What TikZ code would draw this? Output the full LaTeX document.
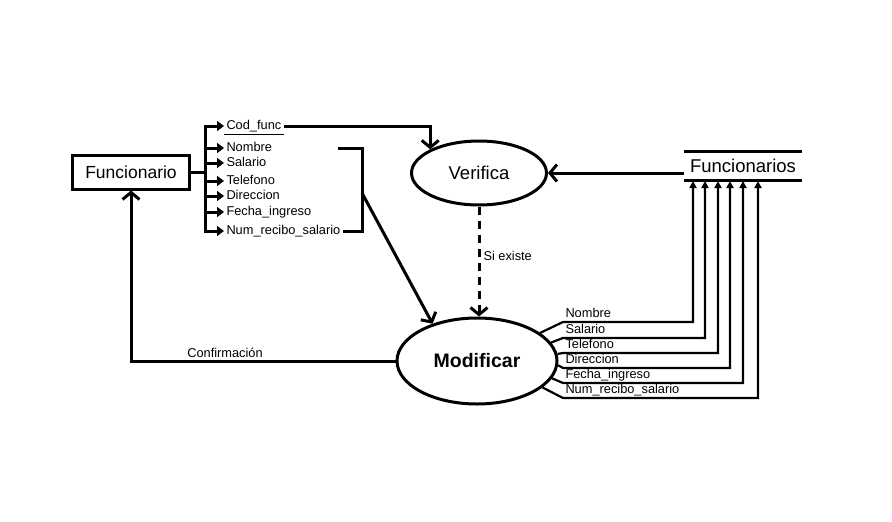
\documentclass[tikz,border=0pt]{standalone}
\usepackage{fontspec}
\setmainfont{Liberation Sans}
\usetikzlibrary{arrows.meta, shapes.geometric, positioning, calc}

\begin{document}
\begin{tikzpicture}[
        x=1pt, y=-1pt,
        line width=3pt,
        ent/.style={rectangle, draw, minimum width=117, minimum height=34, inner sep=0pt, font=\fontsize{17.5}{20}\selectfont},
        proc/.style={ellipse, draw, inner sep=0pt},
        attr/.style={inner sep=1pt, text height=9pt, text depth=2.5pt, font=\fontsize{12.8}{14}\selectfont},
        almacen/.style={minimum width=115, minimum height=26, inner sep=0pt, font=\fontsize{18.5}{21}\selectfont},
        flow/.style={-{Straight Barb[length=7pt, width=17pt]}},
        branch/.style={-{Triangle[length=7pt, width=10pt]}},
        back/.style={line width=2.2pt, -{Triangle[length=7pt, width=7pt]}}
    ]
        \useasboundingbox (0,0) rectangle (892,522);

        % ================= NODOS =================

        % Entidad externa
        \node[ent] (func) at (131,172) {Funcionario};

        % Procesos
        \node[proc, minimum width=135, minimum height=64, font=\fontsize{18.5}{21}\selectfont] (ver) at (479,173) {Verifica};
        \node[proc, minimum width=160, minimum height=86, font=\bfseries\fontsize{19.5}{22}\selectfont] (mod) at (477,361) {Modificar};

        % Almacen de datos
        \node[almacen] (alm) at (743,166) {Funcionarios};
        \draw[line width=2.6pt] (alm.north west) -- (alm.north east);
        \draw[line width=2.6pt] (alm.south west) -- (alm.south east);

        % ================= ATRIBUTOS DE ENTRADA =================
        \foreach \n/\t/\y in {cod/Cod\_func/126, nom/Nombre/148, sal/Salario/163,
                tel/Telefono/181, dir/Direccion/196, fec/Fecha\_ingreso/212,
                num/Num\_recibo\_salario/231}{
            \node[attr, anchor=west] (\n) at (224,\y) {\t};
            \coordinate (t\n) at (205,\y);
            \draw[branch] (t\n) -- (\n.west);
        }
        \draw[line cap=rect] (tcod) -- (tnum);
        \draw (func.east) -- (func.east -| tcod);
        \draw[line width=1pt] (cod.south west) -- (cod.south east);

        % Cod_func hacia Verifica
        \draw[flow] (cod.east) -| (ver.north west);

        % Corchete de los demas atributos
        \coordinate (bs) at (338,148);
        \coordinate (bt) at (362,148);
        \coordinate (bb) at (362,231);
        \coordinate (bm) at (362,193);
        \draw[line join=miter] (bs) -- (bt) -- (bb) -- (num.east);
        \draw[flow] (bm) -- (mod.140);

        % ================= FLUJOS =================
        \draw[flow, dash pattern=on 8pt off 6pt] (ver.south) -- (ver.south |- mod.north);
        \node[attr, anchor=west] (si) at (481,257) {Si existe};

        \draw[flow] (ver.east -| alm.west) -- (ver.east);

        \draw[flow] (mod.west) -| (func.south);
        \node[attr] (conf) at (225,354) {Confirmación};

        % ================= SALIDAS AL ALMACEN =================
        \foreach \i/\t/\a/\y/\x in {1/Nombre/24/322/693, 2/Salario/14/338/705,
                3/Telefono/5/353/718, 4/Direccion/-3/368/730,
                5/Fecha\_ingreso/-13/383/743, 6/Num\_recibo\_salario/-22/398/758}{
            \node[attr, anchor=south west] (o\i) at (563,\y) {\t};
            \coordinate (c\i) at (\x,181);
            \draw[back, line join=miter] (mod.\a) -- (o\i.south west) -| (c\i);
        }

    \end{tikzpicture}
\end{document}
